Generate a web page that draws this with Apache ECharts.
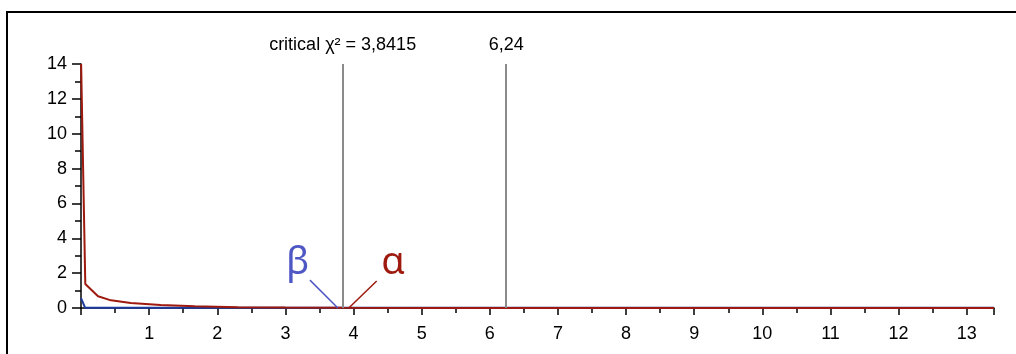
<!DOCTYPE html>
<html>
<head>
<meta charset="utf-8">
<title>chi2</title>
<script src="https://cdn.jsdelivr.net/npm/echarts@6/dist/echarts.min.js"></script>
<style>
  html, body { margin: 0; padding: 0; background: #fff; }
  #wrap { position: relative; width: 1016px; height: 354px; overflow: hidden; }
  #main { position: absolute; left: 0; top: 0; width: 1016px; height: 354px; }
  /* frame round the picture, cut by the window on the right and bottom */
  #frame { position: absolute; left: 6px; top: 11px; width: 1100px; height: 400px;
           border-left: 2px solid #000; border-top: 2px solid #000; pointer-events: none; }
</style>
</head>
<body>
<div id="wrap">
  <div id="main"></div>
  <div id="frame"></div>
</div>
<script>
// values
var alphaX = [0.002, 0.063, 0.25, 0.44, 0.73, 1.17, 1.67, 2.3, 3.0, 3.84, 5.0, 7.0, 10.0, 13.4];
var alphaY = [14, 1.38, 0.67, 0.44, 0.29, 0.17, 0.10, 0.05, 0.03, 0.01, 0.005, 0, 0, 0];
var betaX  = [0, 0.06, 3.84, 13.4];
var betaY  = [0.57, 0.02, 0.02, 0.02];

var criticalX = [3.8415, 6.24];
var criticalLabels = ['critical χ² = 3,8415', '6,24'];

// pointer lines [from, to] and label spots for α and β
var betaPointer  = [[3.36, 1.6], [3.77, 0]];
var alphaPointer = [[4.34, 1.55], [3.93, 0]];
var betaLabelAt  = [3.18, 2.55];
var alphaLabelAt = [4.58, 2.55];

var RED = '#9e1a0e';
var NAVY = '#1d3a9e';
var LILAC = '#4f57c4';
var FONT = '"Liberation Sans", Arial, sans-serif';

function pairs(xs, ys) {
    var out = [];
    for (var i = 0; i < xs.length; i++) out.push([xs[i], ys[i]]);
    return out;
}

var myChart = echarts.init(document.getElementById('main'));

var option = {
    animation: false,
    grid: { left: 81, right: 22, top: 64, bottom: 46 },
    xAxis: {
        type: 'value',
        min: 0,
        max: 13.4,
        interval: 1,
        splitLine: { show: false },
        axisLine: { lineStyle: { color: '#000', width: 1.5 } },
        axisTick: { length: 7, lineStyle: { color: '#000', width: 1.5 } },
        minorTick: { show: true, splitNumber: 2, length: 5, lineStyle: { color: '#000', width: 1.5 } },
        axisLabel: {
            color: '#000', fontSize: 18, fontFamily: FONT, margin: 17,
            showMaxLabel: false,
            formatter: function (v) { return (v > 0 && v < 13.4) ? String(v) : ''; }
        }
    },
    yAxis: {
        type: 'value',
        min: 0,
        max: 14,
        interval: 2,
        splitLine: { show: false },
        axisLine: { show: true, lineStyle: { color: '#000', width: 1.5 } },
        axisTick: { show: true, length: 9, lineStyle: { color: '#000', width: 1.5 } },
        minorTick: { show: true, splitNumber: 2, length: 6, lineStyle: { color: '#000', width: 1.5 } },
        axisLabel: { color: '#000', fontSize: 18, fontFamily: FONT, margin: 14 }
    },
    series: [
        {
            name: 'beta',
            type: 'line',
            data: pairs(betaX, betaY),
            symbol: 'none',
            lineStyle: { color: NAVY, width: 2 },
            z: 3,
            markLine: {
                silent: true,
                symbol: 'none',
                lineStyle: { color: LILAC, width: 1.5, type: 'solid' },
                label: { show: false },
                data: [[{ coord: betaPointer[0] }, { coord: betaPointer[1] }]]
            }
        },
        {
            name: 'alpha',
            type: 'line',
            data: pairs(alphaX, alphaY),
            symbol: 'none',
            lineStyle: { color: RED, width: 2 },
            z: 4,
            markLine: {
                silent: true,
                symbol: 'none',
                lineStyle: { color: RED, width: 1.5, type: 'solid' },
                label: { show: false },
                data: [[{ coord: alphaPointer[0] }, { coord: alphaPointer[1] }]]
            }
        },
        {
            name: 'critical',
            type: 'line',
            data: [],
            markLine: {
                silent: true,
                symbol: 'none',
                lineStyle: { color: '#8a8a8a', width: 2, type: 'solid' },
                label: {
                    show: true, position: 'end', distance: 10,
                    color: '#000', fontSize: 18, fontFamily: FONT,
                    formatter: function (p) { return criticalLabels[p.dataIndex]; }
                },
                data: criticalX.map(function (x) { return { xAxis: x }; })
            }
        },
        {
            name: 'greek',
            type: 'scatter',
            symbolSize: 0,
            silent: true,
            itemStyle: { opacity: 1 },
            label: {
                show: true, position: 'inside', fontSize: 38,
                fontFamily: '"Noto Sans", sans-serif',
                formatter: function (p) { return p.dataIndex === 0 ? 'β' : 'α'; }
            },
            data: [
                { value: betaLabelAt, itemStyle: { color: LILAC }, label: { color: LILAC } },
                { value: alphaLabelAt, itemStyle: { color: RED }, label: { color: RED } }
            ]
        }
    ]
};

myChart.setOption(option);
</script>
</body>
</html>
